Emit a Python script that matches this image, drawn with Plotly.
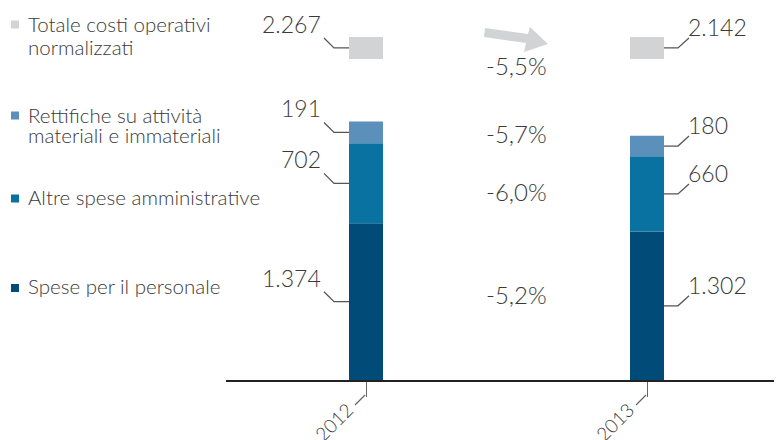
import plotly.graph_objects as go

# data (milioni di euro)
anni = ["2012", "2013"]
personale = [1374, 1302]
altre_spese = [702, 660]
rettifiche = [191, 180]
totale = [2267, 2142]
var_pct = ["-5,5%", "-5,7%", "-6,0%", "-5,2%"]   # totale, rettifiche, altre, personale
serie_nomi = ["Spese per il personale", "Altre spese amministrative",
              "Rettifiche su attività materiali e immateriali", "Totale costi operativi normalizzati"]

C_PERS = "#004b78"
C_ALTRE = "#0a72a1"
C_RETT = "#5b90bb"
C_TOT = "#d1d3d4"
TXT = "#3a3a3a"
FONT = "Lato"

OFF = 8            # page body margin
W, H = 782, 440 - OFF
BASE_Y = 380       # axis line, window pixels
MB = H + OFF - BASE_Y
PLOT_H = H - MB
BAR_W = 0.121
X0_PX, STEP_PX = 226, 281      # axis start and category spacing, window pixels
BOX_BASE, BOX_H = 2816, 193   # grey "totale" marker box, drawn above the bars


def px(x):
    return (x - OFF) / W


def py(y):
    return (BASE_Y - y) / PLOT_H


xs = list(range(len(anni)))
fig = go.Figure()
base_altre = personale
base_rett = [p + a for p, a in zip(personale, altre_spese)]

fig.add_trace(go.Bar(x=xs, y=personale, base=[0] * len(xs), marker_color=C_PERS, width=BAR_W, name=serie_nomi[0]))
fig.add_trace(go.Bar(x=xs, y=altre_spese, base=base_altre, marker_color=C_ALTRE, width=BAR_W, name=serie_nomi[1]))
fig.add_trace(go.Bar(x=xs, y=rettifiche, base=base_rett, marker_color=C_RETT, width=BAR_W, name=serie_nomi[2]))
fig.add_trace(go.Bar(x=xs, y=[BOX_H] * len(xs), base=[BOX_BASE] * len(xs), marker_color=C_TOT, width=BAR_W,
                     name=serie_nomi[3]))
fig.update_traces(marker_line_width=0, hoverinfo="skip")

annotations = []
shapes = []


def num(v):
    return f"{v:,}".replace(",", ".")


# value labels with leader lines
for i in xs:
    mids = [personale[i] / 2, base_altre[i] + altre_spese[i] / 2, base_rett[i] + rettifiche[i] / 2,
            BOX_BASE + BOX_H / 2]
    vals = [personale[i], altre_spese[i], rettifiche[i], totale[i]]
    left = i == 0
    edge = i - BAR_W / 2 if left else i + BAR_W / 2
    for m, v in zip(mids, vals):
        annotations.append(dict(
            x=edge, y=m, xref="x", yref="y", text=num(v), showarrow=False,
            xanchor="right" if left else "left", yanchor="middle",
            xshift=-26 if left else 22, yshift=24 if left else 21,
            font=dict(family=FONT, size=23, color=TXT, weight=300)))
        path = "M0,0 L-15,0 L-25,10" if left else "M0,0 L14,0 L25,10"
        shapes.append(dict(type="path", xref="x", yref="y", xsizemode="pixel", ysizemode="pixel",
                           xanchor=edge, yanchor=m, path=path,
                           line=dict(color="#555555", width=1.3)))

# year labels + tick leaders
for i, a in enumerate(anni):
    shapes.append(dict(type="line", xref="x", yref="paper", xsizemode="pixel", xanchor=i,
                       x0=-1, x1=-11, y0=py(395), y1=py(405),
                       line=dict(color="#666666", width=1.3)))
    annotations.append(dict(x=i, y=py(422), xref="x", yref="paper", text=a, showarrow=False,
                            xshift=-32, textangle=-45, xanchor="center", yanchor="middle",
                            font=dict(family=FONT, size=19, color=TXT, weight=300)))

# variation labels
for t, yy in zip(var_pct, [66, 133, 191, 294]):
    annotations.append(dict(x=px(516), y=py(yy), xref="paper", yref="paper", text=t, showarrow=False,
                            xanchor="center", yanchor="middle",
                            font=dict(family=FONT, size=24, color=TXT, weight=300)))

# legend (custom)
leg_lines = [("Totale costi operativi", 24), ("normalizzati", 47),
             ("Rettifiche su attività", 115), ("materiali e immateriali", 135),
             ("Altre spese amministrative", 197), ("Spese per il personale", 286)]
for t, yy in leg_lines:
    annotations.append(dict(x=px(26), y=py(yy), xref="paper", yref="paper", text=t, showarrow=False,
                            xanchor="left", yanchor="middle",
                            font=dict(family=FONT, size=20.5, color=TXT, weight=300)))
for c, yy in [(C_TOT, 24.5), (C_RETT, 115.5), (C_ALTRE, 198.5), (C_PERS, 288)]:
    shapes.append(dict(type="rect", xref="paper", yref="paper", x0=px(11), x1=px(19),
                       y0=py(yy - 4), y1=py(yy + 4), fillcolor=c, line_width=0))

# grey arrow
arrow_pts = [(485, 28), (528, 34), (530, 27), (548, 44), (524, 52), (526, 43), (484, 37)]
arrow_path = "M" + " L".join(f"{px(x):.5f},{py(y):.5f}" for x, y in arrow_pts) + " Z"
shapes.append(dict(type="path", xref="paper", yref="paper", path=arrow_path, fillcolor=C_TOT, line_width=0))

x_start = -(366 - X0_PX) / STEP_PX
x_end = x_start + (W + OFF - X0_PX) / STEP_PX
fig.update_layout(
    width=W, height=H, margin=dict(l=0, r=0, t=0, b=MB),
    paper_bgcolor="white", plot_bgcolor="white",
    barmode="overlay", showlegend=False,
    annotations=annotations, shapes=shapes,
    xaxis=dict(domain=[px(X0_PX), 1], range=[x_start, x_end], showgrid=False, zeroline=False,
               showline=True, linecolor="#222222", linewidth=1.5,
               tickvals=xs, showticklabels=False, ticks="outside", ticklen=15,
               tickcolor="#666666", tickwidth=1.3),
    yaxis=dict(range=[0, PLOT_H / 0.114], visible=False),
)

fig.write_html("out.html")
